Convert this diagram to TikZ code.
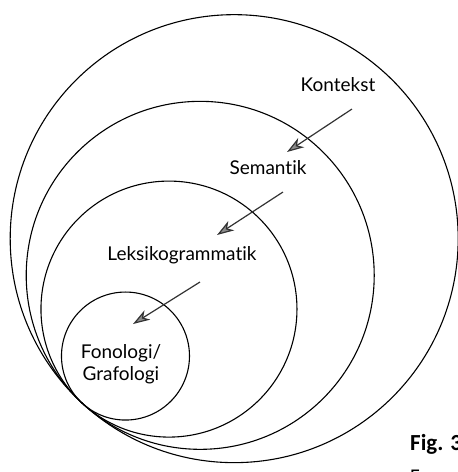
\documentclass[tikz,border=0pt]{standalone}
\usepackage{fontspec}
\setmainfont{Lato}[Ligatures={NoCommon}]
\newfontfamily\figfont{Carlito}
\usetikzlibrary{arrows.meta,calc}

\begin{document}
\begin{tikzpicture}[x=1pt, y=1pt,
		ring/.style={circle,draw,line width=1.1pt,inner sep=0pt},
		level node/.style={font=\fontsize{19}{22}\selectfont,align=center,inner sep=1pt},
		pil/.style={draw=black!80,line width=1.2pt,-{Stealth[length=17pt,width=11pt,inset=5pt,fill=black!45]}}]
	
			\useasboundingbox (0,0) rectangle (458,-472);
			\clip (0,0) rectangle (458,-472);
			
			% all rings touch in one point, lower left
			\coordinate (touch) at (82,-403);
			\node[ring, minimum size=448pt] (c1) at ($(touch)+(47.2:224)$) {};
			\node[ring, minimum size=348pt] (c2) at ($(touch)+(47.2:174)$) {};
			\node[ring, minimum size=256pt] (c3) at ($(touch)+(47.2:128)$) {};
			\node[ring, minimum size=128pt] (c4) at ($(touch)+(47.2:64)$) {};
			
			\node[level node] (kontekst) at (338,-85) {Kontekst};
			\node[level node] (semantik) at (268,-168) {Semantik};
			\node[level node] (leksiko) at (182,-255) {Leksikogrammatik};
			\node[level node] (fonologi) at (121,-364) {Fonologi/\\Grafologi};
			
			\draw[pil] ([shift={(14,-24)}]kontekst.center) -- ([shift={(19,16)}]semantik.center);
			\draw[pil] ([shift={(15,-24)}]semantik.center) -- ([shift={(35,20)}]leksiko.center);
			\draw[pil] ([shift={(18,-27)}]leksiko.center) -- ([shift={(12,40)}]fonologi.center);
			
			\node[anchor=base west, inner sep=0pt, font=\figfont\fontsize{23}{26}\selectfont\bfseries] (fig) at (410,-450) {Fig. 3};
			\node[anchor=base west, inner sep=0pt, font=\figfont\fontsize{21}{24}\selectfont] (fra) at (410,-483) {Fra:};
		\end{tikzpicture}
\end{document}
